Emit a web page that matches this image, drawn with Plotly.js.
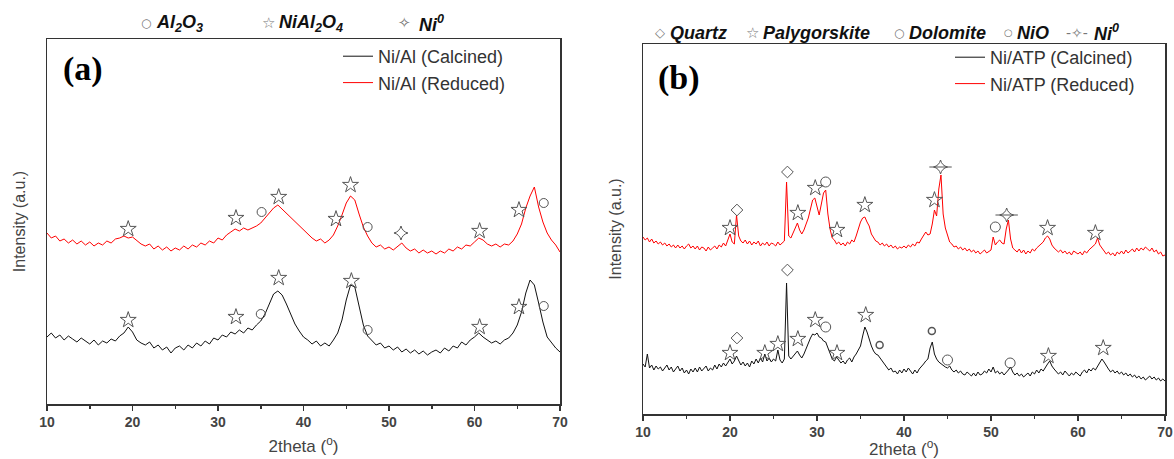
<!DOCTYPE html>
<html>
<head>
<meta charset="utf-8">
<script src="https://cdn.plot.ly/plotly-3.0.1.min.js"></script>
<style>html,body{margin:0;padding:0;background:#fff;}#plot{width:1174px;height:459px;}</style>
</head>
<body>
<div id="plot"></div>
<script>
// ---------- DATA ----------
// Panel (a): 2theta grid 10..70, step 0.5
const twoThetaStartA = 10, twoThetaStepA = 0.5;
const niAlCalcined = [67,71,66,69,64,68,65,62,66,63,60,64,59,63,61,65,63,68,71,77,72,64,61,59,62,56,59,54,57,51,56,58,54,59,56,61,58,63,60,66,64,69,67,72,70,74,71,76,74,79,83,90,100,110,113,109,100,89,80,73,67,64,60,63,58,61,58,64,71,84,104,119,117,98,79,68,64,59,61,56,58,54,57,52,55,51,54,50,53,49,52,54,51,56,53,58,56,62,59,64,67,71,67,64,61,63,60,64,66,71,79,92,111,124,119,101,82,67,61,56,52];
const niAlReduced = [171,166,168,163,165,161,164,160,163,159,162,158,161,159,163,161,165,166,168,166,167,163,160,158,160,155,158,154,157,153,156,154,158,155,159,157,161,159,163,161,166,164,169,172,175,173,176,174,176,178,181,186,192,196,199,195,191,186,182,179,174,170,166,163,165,161,164,169,178,189,201,208,204,190,177,168,161,157,159,155,157,154,158,161,156,153,155,151,154,151,153,150,153,151,155,153,157,155,159,158,162,166,164,160,158,160,157,160,159,163,170,180,196,208,217,197,182,171,164,159,152];

// Panel (b): 2theta grid 10..70, step 0.25
const twoThetaStartB = 10, twoThetaStepB = 0.25;
const niAtpCalcined = [
50,47,60,46, 49,44,48,45, 47,43,46,49, 44,47,42,45, 48,43,46,41,
44,40,45,42, 46,42,47,43, 45,48,43,46, 44,49,45,50, 47,51,48,52,
55,50,53,58, 54,49,52,48, 51,47,53,50, 55,51,56,52, 60,53,56,52,
55,53,64,54, 51,55,131,58, 55,58,60,63, 59,56,60,66, 70,76,80,79,
81,77,76,73, 72,66,60,55, 53,57,54,51, 53,50,54,56, 52,57,60,64,
68,78,87,82, 74,68,63,60, 59,56,52,50, 47,44,46,42, 43,40,44,41,
45,42,46,43, 40,44,41,45, 47,50,53,55, 66,72,60,55, 52,50,48,47,
46,48,44,42, 44,41,43,40, 39,42,40,38, 41,38,42,39, 40,43,41,45,
42,47,41,43, 40,42,39,41, 44,47,42,39, 41,38,40,37, 39,41,38,42,
40,44,41,45, 43,47,50,53, 48,45,43,40, 42,39,43,40, 38,41,39,42,
40,38,42,44, 41,45,43,46, 44,48,51,55, 52,48,45,42, 44,41,43,40,
42,39,41,38, 40,37,39,36, 38,35,37,34, 36,38,35,37, 34,36,33,35,
33];
const niAtpReduced = [
177,174,176,172, 175,171,173,170, 172,169,171,168, 170,167,169,166, 169,166,168,165,
168,170,166,168, 165,168,164,167, 166,163,167,164, 166,168,165,169, 167,171,168,174,
180,172,170,199, 178,173,171,174, 170,173,169,172, 170,173,168,171, 169,172,168,171,
170,168,172,169, 171,173,232,178, 176,182,186,191, 184,180,184,190, 196,205,214,216,
207,199,210,221, 224,200,185,176, 174,170,172,169, 171,168,172,170, 174,172,178,186,
192,196,197,192, 188,180,176,173, 172,169,171,168, 170,167,169,166, 168,165,167,166,
168,166,169,167, 170,168,172,171, 175,178,182,179, 180,190,204,198, 225,239,200,186,
178,172,170,167, 168,165,167,164, 166,163,165,162, 164,161,163,160, 162,164,161,163,
164,177,169,172, 174,171,170,185, 194,175,166,164, 162,165,161,164, 160,163,161,165,
163,166,168,170, 172,176,178,175, 169,166,164,162, 164,161,163,160, 162,159,163,161,
160,162,159,163, 161,164,166,168, 170,176,169,166, 163,160,162,159, 161,158,162,160,
163,160,164,161, 163,165,162,166, 163,166,164,167, 165,163,166,162, 164,160,162,158,
159];

// Phase markers (2theta, height) — panel (a)
const aStarX = [19.5, 32.1, 37.1, 45.6, 60.6, 65.2];
const aStarCalcY = [84, 87, 126, 123, 77, 97];
const aCircX = [35.0, 47.5, 68.1];
const aCircCalcY = [90, 74, 98];
const aStarRedX = [19.5, 32.1, 37.1, 43.8, 45.5, 60.6, 65.2];
const aStarRedY = [175, 186, 207, 185, 219, 173, 194];
const aCircRedX = [35.1, 47.5, 68.1];
const aCircRedY = [192, 177, 201];
const aNiX = [51.4];
const aNiY = [171];

// Phase markers — panel (b)
const bStarCalcX = [20.0, 24.0, 25.5, 27.8, 29.8, 32.3, 35.6, 56.6, 62.9];
const bStarCalcY = [61, 61, 70, 75, 94, 61, 99, 58, 66];
const bQtzCalcX = [20.8, 26.6];
const bQtzCalcY = [76, 144];
const bDolCalcX = [31.0, 45.0, 52.2];
const bDolCalcY = [87, 54, 51];
const bNioCalcX = [37.2, 43.2];
const bNioCalcY = [69, 83];
const bStarRedX = [20.0, 27.8, 29.8, 32.3, 35.5, 43.5, 56.5, 62.0];
const bStarRedY = [186, 201, 226, 184, 209, 214, 186, 181];
const bQtzRedX = [20.8, 26.6];
const bQtzRedY = [204, 242];
const bDolRedX = [31.0, 50.5];
const bDolRedY = [232, 187];
const bNiRedX = [44.2, 51.8];
const bNiRedY = [247, 199];

const xTickVals = [10, 20, 30, 40, 50, 60, 70];
const xTickText = ['10', '20', '30', '40', '50', '60', '70'];

// Phase key labels (top rows)
const keyA = [
  { sym: '○', symSize: 12, label: 'Al<sub>2</sub>O<sub>3</sub>', symX: 146, textX: 154 },
  { sym: '☆', symSize: 15, label: 'NiAl<sub>2</sub>O<sub>4</sub>', symX: 268, textX: 277 },
  { sym: '✧', symSize: 15, label: 'Ni<sup>0</sup>', symX: 404, textX: 417 }
];
const keyB = [
  { sym: '◇', symSize: 13, label: 'Quartz', symX: 660, textX: 668 },
  { sym: '☆', symSize: 15, label: 'Palygorskite', symX: 752, textX: 761 },
  { sym: '○', symSize: 12, label: 'Dolomite', symX: 899, textX: 907 },
  { sym: '○', symSize: 10, label: 'NiO', symX: 1009, textX: 1015 },
  { sym: '-✧-', symSize: 14, label: 'Ni<sup>0</sup>', symX: 1077, textX: 1092 }
];

// ---------- BUILD ----------
function grid(start, step, n) { const g = []; for (let i = 0; i < n; i++) g.push(+(start + i * step).toFixed(2)); return g; }
const xa = grid(twoThetaStartA, twoThetaStepA, niAlCalcined.length);
const xb = grid(twoThetaStartB, twoThetaStepB, niAtpCalcined.length);

const MK = '#555';
const mk = (x, y, sym, size, xaxis, yaxis, w) => ({
  x, y, type: 'scatter', mode: 'markers', xaxis, yaxis, showlegend: false, hoverinfo: 'skip',
  marker: { symbol: sym, size, color: MK, line: { color: MK, width: w || 1 } }
});

const traces = [
  { x: xa, y: niAlCalcined, type: 'scatter', mode: 'lines', name: 'Ni/Al (Calcined)', line: { color: '#111', width: 1 }, xaxis: 'x', yaxis: 'y', legend: 'legend' },
  { x: xa, y: niAlReduced, type: 'scatter', mode: 'lines', name: 'Ni/Al (Reduced)', line: { color: '#ff0000', width: 1 }, xaxis: 'x', yaxis: 'y', legend: 'legend' },
  { x: xb, y: niAtpCalcined, type: 'scatter', mode: 'lines', name: 'Ni/ATP (Calcined)', line: { color: '#111', width: 1 }, xaxis: 'x2', yaxis: 'y2', legend: 'legend2' },
  { x: xb, y: niAtpReduced, type: 'scatter', mode: 'lines', name: 'Ni/ATP (Reduced)', line: { color: '#ff0000', width: 1 }, xaxis: 'x2', yaxis: 'y2', legend: 'legend2' },
  mk(aStarX, aStarCalcY, 'star-open', 12, 'x', 'y'),
  mk(aCircX, aCircCalcY, 'circle-open', 9, 'x', 'y'),
  mk(aStarRedX, aStarRedY, 'star-open', 12, 'x', 'y'),
  mk(aCircRedX, aCircRedY, 'circle-open', 9, 'x', 'y'),
  mk(aNiX, aNiY, 'star-diamond-open', 10, 'x', 'y'),
  mk(bStarCalcX, bStarCalcY, 'star-open', 12, 'x2', 'y2'),
  mk(bQtzCalcX, bQtzCalcY, 'diamond-open', 9, 'x2', 'y2'),
  mk(bDolCalcX, bDolCalcY, 'circle-open', 10, 'x2', 'y2'),
  mk(bNioCalcX, bNioCalcY, 'circle-open', 7, 'x2', 'y2', 1.5),
  mk(bStarRedX, bStarRedY, 'star-open', 12, 'x2', 'y2'),
  mk(bQtzRedX, bQtzRedY, 'diamond-open', 9, 'x2', 'y2'),
  mk(bDolRedX, bDolRedY, 'circle-open', 10, 'x2', 'y2'),
  mk(bNiRedX, bNiRedY, 'star-diamond-open', 10, 'x2', 'y2'),
  mk(bNiRedX, bNiRedY, 'line-ew-open', 16, 'x2', 'y2')
];

const FONT = 'Liberation Sans, Arial, sans-serif';
const xAxisBase = {
  range: [10, 70], tickvals: xTickVals, ticktext: xTickText.map(t => '<b>' + t + '</b>'), ticks: 'outside', ticklen: 5, tickwidth: 1.5, tickcolor: '#333',
  minor: { dtick: 5, tick0: 10, ticks: 'outside', ticklen: 3, tickwidth: 1.5, tickcolor: '#333' },
  showline: true, mirror: true, linecolor: '#333', linewidth: 1.5, showgrid: false, zeroline: false,
  tickfont: { family: FONT, size: 14, color: '#444' },
  title: { text: '2theta (<sup>o</sup>)', font: { family: FONT, size: 17, color: '#444' }, standoff: 11 },
  automargin: false, fixedrange: true
};
const yAxisBase = {
  showticklabels: false, ticks: '', showline: true, mirror: true, linecolor: '#333', linewidth: 1.5,
  showgrid: false, zeroline: false, automargin: false, fixedrange: true,
  title: { text: 'Intensity (a.u.)', font: { family: FONT, size: 16, color: '#444' }, standoff: 16 }
};

const keyAnns = (items, yPx) => {
  const out = [];
  items.forEach(k => {
    out.push({ xref: 'paper', yref: 'paper', x: k.symX / 1174, y: 1 - yPx / 459, xanchor: 'center', yanchor: 'middle', showarrow: false,
      text: k.sym, font: { family: 'DejaVu Sans, sans-serif', size: k.symSize, color: '#777' } });
    out.push({ xref: 'paper', yref: 'paper', x: k.textX / 1174, y: 1 - yPx / 459, xanchor: 'left', yanchor: 'middle', showarrow: false,
      text: '<b><i>' + k.label + '</i></b>', font: { family: FONT, size: 18, color: '#111' } });
  });
  return out;
};

const layout = {
  width: 1174, height: 459, margin: { l: 0, r: 0, t: 0, b: 0 }, paper_bgcolor: '#fff', plot_bgcolor: '#fff',
  xaxis: Object.assign({}, xAxisBase, { domain: [47 / 1174, 560 / 1174], anchor: 'y' }),
  yaxis: Object.assign({}, yAxisBase, { domain: [1 - 404 / 459, 1 - 39 / 459], range: [0, 365], anchor: 'x' }),
  xaxis2: Object.assign({}, xAxisBase, { domain: [643 / 1174, 1165 / 1174], anchor: 'y2' }),
  yaxis2: Object.assign({}, yAxisBase, { domain: [1 - 414 / 459, 1 - 44 / 459], range: [0, 370], anchor: 'x2' }),
  legend: { x: 338 / 1174, y: 1 - 38 / 459, xanchor: 'left', yanchor: 'top', bgcolor: 'rgba(0,0,0,0)', font: { family: FONT, size: 18, color: '#333' }, tracegroupgap: 0, itemwidth: 30 },
  legend2: { x: 950 / 1174, y: 1 - 39 / 459, xanchor: 'left', yanchor: 'top', bgcolor: 'rgba(0,0,0,0)', font: { family: FONT, size: 18, color: '#333' }, tracegroupgap: 0, itemwidth: 30 },
  annotations: [
    { xref: 'paper', yref: 'paper', x: 61 / 1174, y: 1 - 69 / 459, xanchor: 'left', yanchor: 'middle', showarrow: false, text: '<b>(a)</b>', font: { family: 'Liberation Serif, Times New Roman, serif', size: 34, color: '#000' } },
    { xref: 'paper', yref: 'paper', x: 656 / 1174, y: 1 - 78 / 459, xanchor: 'left', yanchor: 'middle', showarrow: false, text: '<b>(b)</b>', font: { family: 'Liberation Serif, Times New Roman, serif', size: 34, color: '#000' } }
  ].concat(keyAnns(keyA, 23), keyAnns(keyB, 33))
};

Plotly.newPlot('plot', traces, layout, { staticPlot: true });
</script>
</body>
</html>
